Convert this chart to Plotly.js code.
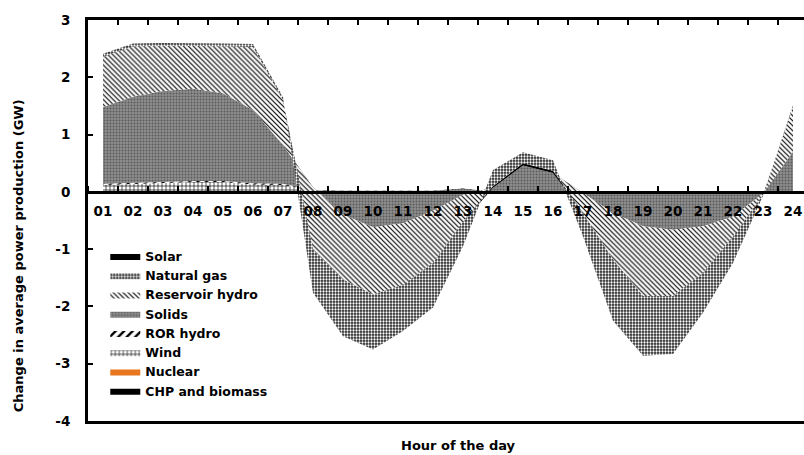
<!DOCTYPE html>
<html>
<head>
<meta charset="utf-8">
<script src="https://cdn.plot.ly/plotly-3.0.1.min.js"></script>
<style>
html,body{margin:0;padding:0;overflow:hidden;background:#fff;}
#chart{width:812px;height:455px;}
</style>
</head>
<body>
<div id="chart"></div>
<script>
// Hour-of-day tick labels (categories)
const hours = ['01','02','03','04','05','06','07','08','09','10','11','12',
               '13','14','15','16','17','18','19','20','21','22','23','24'];

// Y tick values and labels (GW)
const yTickVals = [-4, -3, -2, -1, 0, 1, 2, 3];
const yTickText = ['-4', '-3', '-2', '-1', '0', '1', '2', '3'];

// Change in average power production (GW), per source, in stacking order (bottom -> top)
const chpBiomass   = [0,0,0,0,0,0,0,0,0,0,0,0,0,0,0,0,0,0,0,0,0,0,0,0];
const nuclear      = [0,0,0,0,0,0,0,0,0,0,0,0,0,0,0,0,0,0,0,0,0,0,0,0];
const wind         = [0.12,0.14,0.15,0.17,0.17,0.13,0.12,0.02,0,0,0,0,0,0,0,0,0,0,0,0,0,0,0,0];
const rorHydro     = [0.02,0.02,0.02,0.02,0.02,0.02,0.02,0.01,0.02,0.02,0.02,0.02,0.06,0,0,0,0,0,0,0,0,0,0,0];
const solids       = [1.34,1.50,1.59,1.61,1.53,1.28,0.68,0.05,-0.42,-0.64,-0.57,-0.35,-0.11,0.07,0.46,0.33,-0.02,-0.37,-0.60,-0.66,-0.60,-0.43,-0.03,0.70];
const reservoirHydro = [0.88,0.88,0.79,0.75,0.82,1.10,0.78,-1.09,-1.13,-1.17,-1.07,-0.91,-0.47,0,0,0,-0.35,-0.81,-1.22,-1.16,-0.81,-0.35,-0.02,0.78];
const solar        = [0,0,0,0,0,0,0,0,0,0,0,0,0,0.03,0.04,0.04,0,0,0,0,0,0,0,0];
const naturalGas   = [0.05,0.05,0.05,0.05,0.05,0.05,0.05,-0.75,-0.99,-0.96,-0.81,-0.78,-0.43,0.28,0.19,0.18,-0.41,-1.07,-1.04,-1.01,-0.70,-0.46,-0.02,0.03];

const xPos = hours.map(h => parseInt(h, 10));

const FAMILY = 'DejaVu Sans, sans-serif';
const FONT = {family: FAMILY, size: 13, color: '#000', weight: 700};

function area(name, y, rank, fillcolor, pattern) {
  const t = {
    type: 'scatter', mode: 'lines', name: name,
    x: xPos, y: y, stackgroup: 'one',
    line: {width: 0, color: fillcolor},
    fillcolor: fillcolor,
    legendrank: rank,
    hoverinfo: 'skip'
  };
  if (pattern) t.fillpattern = pattern;
  return t;
}

const data = [
  area('CHP and biomass', chpBiomass, 8, '#000000'),
  area('Nuclear', nuclear, 7, '#e8761e'),
  area('Wind', wind, 6, '#ffffff', {shape: '+', size: 4, solidity: 0.3, fgcolor: '#000', bgcolor: '#fff', fillmode: 'replace'}),
  area('ROR hydro', rorHydro, 5, '#ffffff', {shape: '/', size: 6, solidity: 0.4, fgcolor: '#000', bgcolor: '#fff', fillmode: 'replace'}),
  area('Solids', solids, 4, '#858585', {shape: '.', size: 3, solidity: 0.35, fgcolor: '#5a5a5a', bgcolor: '#8e8e8e', fillmode: 'replace'}),
  area('Reservoir hydro', reservoirHydro, 3, '#ffffff', {shape: '\\', size: 3.5, solidity: 0.33, fgcolor: '#000', bgcolor: '#fff', fillmode: 'replace'}),
  area('Solar', solar, 1, '#000000'),
  area('Natural gas', naturalGas, 2, '#555555', {shape: '.', size: 3, solidity: 0.45, fgcolor: '#ffffff', bgcolor: '#262626', fillmode: 'replace'}),
  // carrier for the zero-line hour axis (no marks)
  {type: 'scatter', mode: 'none', x: [], y: [], xaxis: 'x2', yaxis: 'y', showlegend: false, hoverinfo: 'skip'}
];

const layout = {
  width: 812, height: 455,
  margin: {l: 88, r: 4, t: 20, b: 34},
  paper_bgcolor: '#fff', plot_bgcolor: '#fff',
  font: FONT,
  showlegend: true,
  legend: {
    x: 0.024, y: 0.448, xanchor: 'left', yanchor: 'top',
    bgcolor: 'rgba(0,0,0,0)', borderwidth: 0,
    font: Object.assign({}, FONT, {size: 12.5}), traceorder: 'normal', itemwidth: 30, tracegroupgap: 0
  },
  xaxis: {
    type: 'linear', range: [0.5, 24.5], side: 'top', anchor: 'y',
    tickmode: 'linear', tick0: 0.5, dtick: 1, ticks: 'inside', ticklen: 5, tickwidth: 2, tickcolor: '#000',
    showticklabels: false, showline: true, linewidth: 3, linecolor: '#000', mirror: true,
    showgrid: false, zeroline: false
  },
  xaxis2: {
    type: 'linear', range: [0.5, 24.5], overlaying: 'x', anchor: 'free', position: 4/7, side: 'bottom',
    tickmode: 'array', tickvals: xPos, ticktext: hours, ticks: '',
    showline: true, linewidth: 3, linecolor: '#000',
    showgrid: false, zeroline: false,
    tickfont: Object.assign({}, FONT, {size: 13.5}),
    ticklabelstandoff: 6,
    minor: {tickmode: 'linear', tick0: 0.5, dtick: 1, ticks: 'inside', ticklen: 5, tickwidth: 2, tickcolor: '#000', showgrid: false}
  },
  yaxis: {
    range: [-4, 3], tickmode: 'array', tickvals: yTickVals, ticktext: yTickText, anchor: 'x',
    ticks: 'inside', ticklen: 5, tickwidth: 2, tickcolor: '#000',
    showline: true, linewidth: 3, linecolor: '#000',
    showgrid: false, zeroline: false,
    tickfont: Object.assign({}, FONT, {size: 13.5}),
    ticklabelstandoff: 12
  },
  annotations: [
    {text: 'Change in average power production (GW)', textangle: -90,
     xref: 'paper', yref: 'paper', x: -0.0972, y: 0.411, xanchor: 'center', yanchor: 'middle',
     showarrow: false, font: FONT},
    {text: 'Hour of the day',
     xref: 'paper', yref: 'paper', x: 0.514, y: -0.062, xanchor: 'center', yanchor: 'middle',
     showarrow: false, font: FONT}
  ]
};

Plotly.newPlot('chart', data, layout, {displayModeBar: false, staticPlot: true});
</script>
</body>
</html>
